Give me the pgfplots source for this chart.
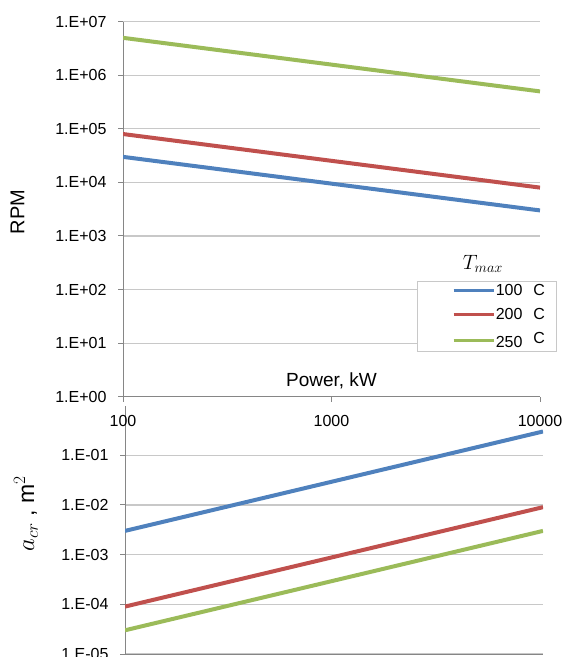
\documentclass[border=0pt]{standalone}
\usepackage{fontspec}
\setmainfont{Liberation Sans}
\usepackage{pgfplots}
\pgfplotsset{compat=1.18}
\definecolor{xblue}{HTML}{4F81BD}
\definecolor{xred}{HTML}{C0504D}
\definecolor{xgreen}{HTML}{9BBB59}
\definecolor{axgray}{HTML}{868686}
\definecolor{grgray}{HTML}{C8C8C8}
\begin{document}
\begin{tikzpicture}
\useasboundingbox (0,0) rectangle (563pt,657pt);
\clip (0,0) rectangle (563pt,657pt);
% bottom chart
\begin{axis}[
  scale only axis, xmode=log, ymode=log, axis lines=left,
  axis line style={-, draw=axgray, line width=1pt},
  ymajorgrids, grid style={grgray, line width=1.2pt},
  tick style={axgray, line width=1pt}, tick align=outside, major tick length=5pt,
  xmin=100, xmax=10000, xmajorticks=false,
  xminorticks=false, yminorticks=false,
  tick label style={font=\fontsize{16}{18}\selectfont},
  yticklabel style={xshift=-8pt},
  at={(125pt,3pt)}, anchor=south west, width=418pt, height=248.5pt,
  ymin=1e-5, ymax=1, ytick={1e-5,1e-4,1e-3,1e-2,1e-1},
  yticklabels={1.E-05,1.E-04,1.E-03,1.E-02,1.E-01},
  ylabel={$a_{cr}$ , m$^2$},
  ylabel style={at={(axis description cs:-0.237,0.565)}, anchor=center, font=\fontsize{23}{25}\selectfont}]
\addplot[xblue, line width=4pt] coordinates {(100,3e-3) (10000,0.3)};
\addplot[xred, line width=4pt] coordinates {(100,9e-5) (10000,9e-3)};
\addplot[xgreen, line width=4pt] coordinates {(100,3e-5) (10000,3e-3)};
\end{axis}
% top chart
\begin{axis}[
  scale only axis, xmode=log, ymode=log, axis lines=left,
  axis line style={-, draw=axgray, line width=1pt},
  ymajorgrids, grid style={grgray, line width=1.2pt},
  tick style={axgray, line width=1pt}, tick align=outside, major tick length=5pt,
  xmin=100, xmax=10000, xtick={100,1000,10000}, xticklabels={100,1000,10000},
  xminorticks=false, yminorticks=false,
  tick label style={font=\fontsize{16}{18}\selectfont},
  yticklabel style={xshift=-8pt},
  xticklabel style={yshift=-10pt},
  at={(123pt,260.3pt)}, anchor=south west, width=417pt, height=375pt,
  ymin=1, ymax=1e7, ytick={1,10,100,1000,10000,100000,1000000,10000000},
  yticklabels={1.E+00,1.E+01,1.E+02,1.E+03,1.E+04,1.E+05,1.E+06,1.E+07},
  ylabel={RPM},
  ylabel style={at={(axis description cs:-0.253,0.4925)}, anchor=center, font=\fontsize{20}{22}\selectfont},
  xlabel={Power, kW},
  xlabel style={at={(axis description cs:0.5,0)}, anchor=base, yshift=10pt, font=\fontsize{19}{21}\selectfont},
  legend style={at={(rel axis cs:1.0408,0.3085)}, anchor=north east, draw=grgray, line width=1pt, fill=white,
    font=\fontsize{16}{18}\selectfont, inner xsep=2pt, inner ysep=1pt, row sep=7pt,
    nodes={inner xsep=0.5pt}},
  legend cell align=left,
  legend image code/.code={\path (-32pt,0pt); \draw[#1, line width=3.3pt] (0pt,0pt) -- (40pt,0pt);}]
\addplot[xblue, line width=4pt] coordinates {(100,3e4) (10000,3e3)};
\addlegendentry{100\hspace{11pt}C\rule{9pt}{0pt}}
\addplot[xred, line width=4pt] coordinates {(100,8e4) (10000,8e3)};
\addlegendentry{200\hspace{11pt}C\rule{9pt}{0pt}}
\addplot[xgreen, line width=4pt] coordinates {(100,5e6) (10000,5e5)};
\addlegendentry{250\hspace{11pt}\raisebox{4pt}{C}\rule{9pt}{0pt}}
\node[font=\fontsize{21}{23}\selectfont] at (rel axis cs:0.863,0.354) {$T_{max}$};
\end{axis}
\end{tikzpicture}
\end{document}
